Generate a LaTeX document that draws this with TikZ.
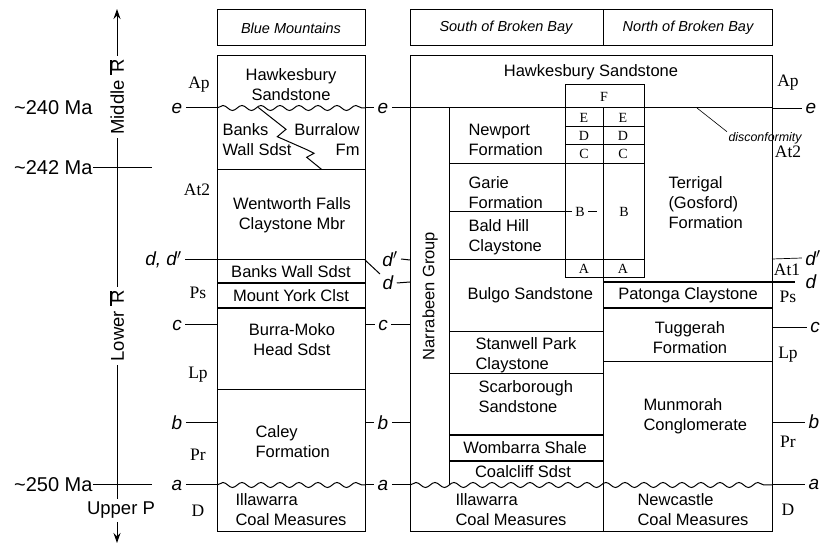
\documentclass[tikz,border=0pt]{standalone}
\usepackage{fontspec}
\setmainfont{Liberation Sans}
\newfontfamily\serifs{Liberation Serif}
\usetikzlibrary{decorations.pathmorphing,arrows.meta}
\newcommand\triasR{{\rlap{\rule[0.66em]{0.8em}{0.1em}}\hspace{0.12em}R}}
\begin{document}
\begin{tikzpicture}[x=1pt,y=-1pt,line width=1pt,
  lay/.style={font=\fontsize{16.5}{20}\selectfont, align=center, inner sep=0pt},
  layl/.style={lay, align=left},
  hdr/.style={font=\fontsize{14.5}{16}\selectfont\itshape, inner sep=0pt},
  stg/.style={font=\serifs\fontsize{17.5}{19}\selectfont, inner sep=0pt},
  hzn/.style={font=\fontsize{19}{20}\selectfont\itshape, inner sep=0pt},
  age/.style={font=\fontsize{20}{22}\selectfont, inner sep=0pt},
  era/.style={font=\fontsize{18.5}{20}\selectfont, inner sep=3pt},
  grd/.style={font=\serifs\fontsize{14}{15}\selectfont, inner sep=0pt},
  wavy/.style={decorate, decoration={snake, segment length=19pt, amplitude=2.5pt}},
  heavy/.style={line width=1.6pt}]
\fill[white] (0,0) rectangle (823,545);
\useasboundingbox (0,0) rectangle (823,545);

% ---------- time axis ----------
\node[era, rotate=90] (mid) at (117,97) {Middle \triasR};
\node[era, rotate=90] (low) at (117,326) {Lower \triasR};
\node[era, inner sep=0pt] (upp) at (121,510) {Upper P};
\coordinate (axtop) at (117,9);
\coordinate (axlow) at (117,499);
\coordinate (axbot) at (117,543);
\coordinate (axbelow) at (117,522);
\draw[-{Stealth[length=10pt,width=7pt]}] (mid.east) -- (axtop);
\draw (mid.west) -- (low.east);
\draw (low.west) -- (axlow);
\draw[-{Stealth[length=10pt,width=7pt]}] (axbelow) -- (axbot);
\node[age, anchor=east] (m240) at (93,108) {\textasciitilde240 Ma};
\node[age, anchor=east] (m242) at (93,168) {\textasciitilde242 Ma};
\node[age, anchor=east] (m250) at (93,485) {\textasciitilde250 Ma};
\draw (m242.east) -- (152,168);
\draw (m250.east) -- (152,485);

% ---------- left horizon + stage labels ----------
\node[hzn] (eL) at (177,108) {e};
\node[hzn, anchor=east] (ddL) at (182,260) {d, d$'$};
\node[hzn] (cL) at (177,325) {c};
\node[hzn] (bL) at (177,423) {b};
\node[hzn] (aL) at (177,485) {a};
\foreach \n/\y in {eL/108,ddL/260,cL/325,bL/423,aL/485}
  \draw ([xshift=3pt]\n.east) -- (217,\y);
\node[stg] (apL) at (199,85) {Ap};
\node[stg] (at2L) at (197,190) {At2};
\node[stg] (psL) at (198,293) {Ps};
\node[stg] (lpL) at (198,375) {Lp};
\node[stg] (prL) at (198,455) {Pr};
\node[stg] (dL) at (198,511) {D};

% ---------- headers ----------
\draw (217,10) rectangle (365,46);
\node[hdr] (hBM) at (291,28) {Blue Mountains};
\draw (410,10) rectangle (772,46);
\draw (603,10) -- (603,46);
\node[hdr] (hS) at (506,28) {South of Broken Bay};
\node[hdr] (hN) at (688,28) {North of Broken Bay};

% ---------- Blue Mountains column ----------
\draw (217,56) rectangle (365,532);
\draw[wavy] (217,108) -- (365,108);
\draw (258.3,107.5) -- (286,129.3) -- (277.3,136.7) -- (306,149.3) -- (314,153.3) -- (306.7,157.3) -- (321.7,169.5);
\draw (217,170) -- (365,170);
\draw (217,260) -- (365,260);
\draw[heavy] (217,283) -- (365,283);
\draw[heavy] (217,308) -- (365,308);
\draw (217,390) -- (365,390);
\draw[wavy] (217,485) -- (365,485);
\node[lay] (hawkBM) at (291,85) {Hawkesbury\\Sandstone};
\node[layl, anchor=west] (banks1) at (222,140) {Banks\\Wall Sdst};
\node[lay, align=right, anchor=east] (burr) at (360,140) {Burralow\\Fm};
\node[lay] (went) at (292,215) {Wentworth Falls\\Claystone Mbr};
\node[lay] (banks2) at (291,272) {Banks Wall Sdst};
\node[lay] (york) at (291,296) {Mount York Clst};
\node[lay] (burra) at (292,340) {Burra-Moko\\Head Sdst};
\node[layl, anchor=west] (caley) at (255,442) {Caley\\Formation};
\node[layl, anchor=west] (illaBM) at (235,510) {Illawarra\\Coal Measures};

% ---------- middle horizon labels ----------
\node[hzn] (eM) at (383,108) {e};
\node[hzn] (cM) at (383,325) {c};
\node[hzn] (bM) at (383,423) {b};
\node[hzn] (aM) at (383,485) {a};
\foreach \n/\y in {eM/108,cM/325,bM/423,aM/485}{
  \draw (365,\y) -- ([xshift=-3pt]\n.west);
  \draw ([xshift=3pt]\n.east) -- (410,\y);}
\node[hzn] (dpM) at (390,259) {d$'$};
\node[hzn] (dM) at (388,283) {d};
\draw (365,260) -- (380,274);
\draw ([xshift=3pt]dpM.east) -- (410,260);
\draw ([xshift=3pt]dM.east) -- (410,282);

% ---------- South / North of Broken Bay ----------
\draw (410,56) rectangle (772,532);
\draw (410,108) -- (772,108);
\node[lay] (hawkS) at (591,72) {Hawkesbury Sandstone};
% grid A-F
\draw (565,85) rectangle (644,108);
\node[grd] (F) at (604,97) {F};
\draw (565,108) -- (565,278);
\draw (644,108) -- (644,278);
\draw (603,108) -- (603,532);
\draw (565,127) -- (644,127);
\draw (565,145) -- (644,145);
\draw (449,164) -- (644,164);
\draw (449,260) -- (644,260);
\draw (565,278) -- (644,278);
\node[grd] (E1) at (584,118) {E};
\node[grd] (E2) at (623,118) {E};
\node[grd] (D1) at (584,136) {D};
\node[grd] (D2) at (623,136) {D};
\node[grd] (C1) at (584,154) {C};
\node[grd] (C2) at (623,154) {C};
\node[grd] (B1) at (580,212) {B};
\node[grd] (B2) at (624,212) {B};
\node[grd] (A1) at (584,269) {A};
\node[grd] (A2) at (623,269) {A};
\draw (449,212) -- ([xshift=-3pt]B1.west);
\draw ([xshift=3pt]B1.east) -- (597,212);
% Narrabeen group
\draw (449,108) -- (449,485);
\node[lay, rotate=90] (narr) at (430,296) {Narrabeen Group};
\draw (449,332) -- (603,332);
\draw (449,374) -- (603,374);
\draw[heavy] (449,435) -- (603,435);
\draw[heavy] (449,461) -- (603,461);
\node[layl, anchor=west] (newp) at (468,140) {Newport\\Formation};
\node[layl, anchor=west] (garie) at (468,193) {Garie\\Formation};
\node[layl, anchor=west] (bald) at (468,237) {Bald Hill\\Claystone};
\node[lay, anchor=west] (bulgo) at (467,295) {Bulgo Sandstone};
\node[layl, anchor=west] (stan) at (475,355) {Stanwell Park\\Claystone};
\node[layl, anchor=west] (scar) at (478,397) {Scarborough\\Sandstone};
\node[lay] (womb) at (525,448) {Wombarra Shale};
\node[lay] (coal) at (523,472) {Coalcliff Sdst};
\node[layl, anchor=west] (illaS) at (455,510) {Illawarra\\Coal Measures};
% North
\draw[heavy] (603,282) -- (795,282);
\draw[heavy] (603,308) -- (772,308);
\draw (603,362) -- (772,362);
\draw[wavy] (410,485) -- (772,485);
\node[layl, anchor=west] (terr) at (668,203) {Terrigal\\(Gosford)\\Formation};
\node[lay] (pat) at (688,295) {Patonga Claystone};
\node[lay] (tugg) at (690,338) {Tuggerah\\Formation};
\node[layl, anchor=west] (munm) at (643,416) {Munmorah\\Conglomerate};
\node[layl, anchor=west] (newc) at (637,510) {Newcastle\\Coal Measures};
% disconformity
\node[font=\fontsize{12.4}{14}\selectfont\itshape, inner sep=0pt, anchor=west] (disc) at (728,138) {disconformity};
\draw[line width=0.6pt] (697,108) -- ([xshift=-1pt]disc.north west);

% ---------- right labels ----------
\node[stg] (apR) at (788,83) {Ap};
\node[stg] (at2R) at (788,152) {At2};
\node[stg] (at1R) at (787,270) {At1};
\node[stg] (psR) at (788,297) {Ps};
\node[stg] (lpR) at (788,355) {Lp};
\node[stg] (prR) at (788,442) {Pr};
\node[stg] (dR) at (788,510) {D};
\node[hzn] (eR) at (811,108) {e};
\node[hzn, anchor=east] (dpR) at (821,258) {d$'$};
\node[hzn, anchor=west] (dR2) at (805,282) {d};
\node[hzn] (cR) at (815,327) {c};
\node[hzn] (bR) at (814,422) {b};
\node[hzn] (aR) at (814,484) {a};
\draw[line width=0.7pt] (772,108) -- ([xshift=-3pt]eR.west);
\draw[line width=0.7pt] (772,259) -- ([xshift=-3pt]dpR.west);
\draw[line width=0.7pt] (772,327) -- ([xshift=-3pt]cR.west);
\draw[line width=0.7pt] (772,422) -- ([xshift=-3pt]bR.west);
\draw[line width=0.7pt] (772,484) -- ([xshift=-3pt]aR.west);
\end{tikzpicture}
\end{document}
